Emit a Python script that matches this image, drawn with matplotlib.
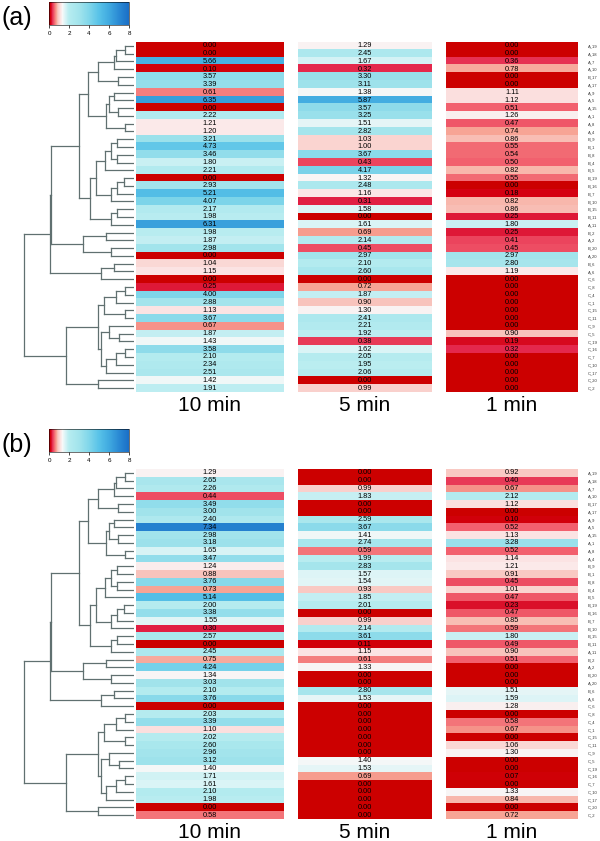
import matplotlib
matplotlib.use("Agg")
import matplotlib.pyplot as plt
import numpy as np
from matplotlib.colors import LinearSegmentedColormap, Normalize
from matplotlib.cm import ScalarMappable

plt.rcParams['font.family'] = ['Liberation Sans', 'DejaVu Sans']

# --- data ---
samples = ["A_19", "A_18", "A_7", "A_10", "B_17", "A_17", "A_9", "A_5", "A_15", "A_1", "A_8",
           "A_4", "B_9", "B_1", "B_8", "B_4", "B_5", "B_19", "B_16", "B_7", "B_10", "B_15",
           "B_11", "A_11", "B_2", "A_2", "B_20", "A_20", "B_6", "A_6",
           "C_6", "C_8", "C_4", "C_1", "C_15", "C_11", "C_9", "C_5", "C_19", "C_16", "C_7",
           "C_10", "C_17", "C_20", "C_2"]
times = ["10 min", "5 min", "1 min"]

a_10min = [0.00, 0.00, 5.66, 0.10, 3.57, 3.39, 0.61, 6.35, 0.00, 2.22, 1.21,
           1.20, 3.21, 4.73, 3.46, 1.80, 2.21, 0.00, 2.93, 5.21, 4.07, 2.17,
           1.98, 6.31, 1.98, 1.87, 2.98, 0.00, 1.04, 1.15,
           0.00, 0.25, 4.00, 2.88, 1.13, 3.67, 0.67, 1.87, 1.43, 3.58, 2.10,
           2.34, 2.51, 1.42, 1.91]
a_5min = [1.29, 2.45, 1.67, 0.32, 3.30, 3.11, 1.38, 5.87, 3.57, 3.25, 1.51,
          2.82, 1.03, 1.00, 3.67, 0.43, 4.17, 1.32, 2.48, 1.16, 0.31, 1.58,
          0.00, 1.61, 0.69, 2.14, 0.45, 2.97, 2.10, 2.60,
          0.00, 0.72, 1.87, 0.90, 1.30, 2.41, 2.21, 1.92, 0.38, 1.62, 2.05,
          1.95, 2.06, 0.00, 0.99]
a_1min = [0.00, 0.00, 0.36, 0.78, 0.00, 0.00, 1.11, 1.12, 0.51, 1.26, 0.47,
          0.74, 0.86, 0.55, 0.54, 0.50, 0.82, 0.55, 0.00, 0.18, 0.82, 0.86,
          0.25, 1.80, 0.25, 0.41, 0.45, 2.97, 2.80, 1.19,
          0.00, 0.00, 0.00, 0.00, 0.00, 0.00, 0.00, 0.90, 0.19, 0.32, 0.00,
          0.00, 0.00, 0.00, 0.00]

b_10min = [1.29, 2.65, 2.26, 0.44, 3.49, 3.00, 2.40, 7.34, 2.98, 3.18, 1.65,
           3.47, 1.24, 0.88, 3.76, 0.73, 5.14, 2.00, 3.38, 1.55, 0.30, 2.57,
           0.00, 2.45, 0.75, 4.24, 1.34, 3.03, 2.10, 3.76,
           0.00, 2.03, 3.39, 1.10, 2.02, 2.60, 2.96, 3.12, 1.40, 1.71, 1.61,
           2.10, 1.98, 0.00, 0.58]
b_5min = [0.00, 0.00, 0.99, 1.83, 0.00, 0.00, 2.59, 3.67, 1.41, 2.74, 0.59,
          1.99, 2.83, 1.57, 1.54, 0.93, 1.85, 2.01, 0.00, 0.99, 2.14, 3.61,
          0.11, 1.15, 0.61, 1.33, 0.00, 0.00, 2.80, 1.53,
          0.00, 0.00, 0.00, 0.00, 0.00, 0.00, 0.00, 1.40, 1.53, 0.69, 0.00,
          0.00, 0.00, 0.00, 0.00]
b_1min = [0.92, 0.40, 0.67, 2.12, 1.12, 0.00, 0.10, 0.52, 1.13, 3.28, 0.52,
          1.14, 1.21, 0.91, 0.45, 1.01, 0.47, 0.23, 0.47, 0.85, 0.59, 1.80,
          0.49, 0.90, 0.51, 0.00, 0.00, 0.00, 1.51, 1.59,
          1.28, 0.00, 0.58, 0.67, 0.00, 1.06, 1.30, 0.00, 0.00, 0.07, 0.00,
          1.33, 0.84, 0.00, 0.72]

# dendrogram (same for both panels): (left, right, merge height), leaves = row index
top_grp = (((((0, 1, 9), 2, 18), 3, 20), (4, 5, 16), 36),
           (((6, 7, 20), (8, 9, 16), 25), (10, 11, 9), 28), 46)
mid_grp = (((((12, 13, 17), (14, 15, 17), 23), 16, 29),
            ((((17, 18, 10), 19, 17)), 20, 23), 38),
           ((21, 22, 17), 23, 23), 44)
c_grp = (((((31, 32, 9), 33, 18), (34, 35, 9), 30),
          ((36, (37, 38, 15), 25), (((39, 40, 9), 41, 18), 42, 28), 33), 36),
         (43, 44, 36), 68)
tree = ((((top_grp, mid_grp, 55), ((24, 25, 28), (26, 27, 23), 51), 83),
         ((28, 29, 20), 30, 33), 84), c_grp, 110)

# --- colours ---
cmap = LinearSegmentedColormap.from_list("rw_blue", [
    (0.0, '#cc0000'), (0.15 / 8, '#d40010'), (0.3 / 8, '#e3244a'),
    (0.5 / 8, '#f2606e'), (0.7 / 8, '#f7a090'), (0.9 / 8, '#f9c8c2'),
    (1.15 / 8, '#fce6e6'), (1.35 / 8, '#f8f8f8'), (1.6 / 8, '#daf4f6'),
    (2.0 / 8, '#b6ecf0'), (3.0 / 8, '#a2e4ec'), (4.0 / 8, '#80d6ea'),
    (5.0 / 8, '#58c2e8'), (6.0 / 8, '#40aae0'), (7.0 / 8, '#2a8ad4'),
    (1.0, '#1a6ec6')])
norm = Normalize(0, 8)
LINE = '#607070'

W, H = 600, 841
fig = plt.figure(figsize=(6, 8.41), dpi=100)


def box(x0, y0, x1, y1):
    return [x0 / W, 1 - y1 / H, (x1 - x0) / W, (y1 - y0) / H]


def draw_tree(ax, node):
    if isinstance(node, int):
        return node + 0.5, 0
    left, right, h = node
    yl, hl = draw_tree(ax, left)
    yr, hr = draw_tree(ax, right)
    ax.plot([hl, h], [yl, yl], color=LINE, lw=0.9)
    ax.plot([hr, h], [yr, yr], color=LINE, lw=0.9)
    ax.plot([h, h], [yl, yr], color=LINE, lw=0.9)
    return (yl + yr) / 2, h


col_x = [(136, 284), (298, 432), (446, 578)]


def draw_panel(top, tag, columns):
    bottom = top + 350
    n = len(samples)

    axd = fig.add_axes(box(20, top, 134, bottom))
    draw_tree(axd, tree)
    axd.set_xlim(114, 0)
    axd.set_ylim(n, 0)
    axd.axis('off')

    for (x0, x1), vals, name in zip(col_x, columns, times):
        ax = fig.add_axes(box(x0, top, x1, bottom))
        ax.imshow(np.array(vals)[:, None], cmap=cmap, norm=norm, aspect='auto',
                  interpolation='nearest', extent=(0, 1, n, 0))
        for i, v in enumerate(vals):
            ax.text(0.5, i + 0.5, f"{v:.2f}", ha='center', va='center', fontsize=5.3)
        ax.set_xticks([])
        ax.set_yticks([])
        for s in ax.spines.values():
            s.set_visible(False)
        fig.text((x0 + x1) / 2 / W, 1 - (top + 363) / H, name,
                 ha='center', va='center', fontsize=15)

    ax.yaxis.tick_right()
    ax.set_yticks(np.arange(n) + 0.5)
    ax.set_yticklabels(samples, fontsize=3, color='#333333')
    ax.tick_params(axis='y', length=0, pad=7)

    cax = fig.add_axes(box(49, top - 40, 129, top - 17))
    cb = fig.colorbar(ScalarMappable(norm=norm, cmap=cmap), cax=cax,
                      orientation='horizontal', ticks=[0, 2, 4, 6, 8])
    cb.outline.set_linewidth(0.4)
    cb.ax.tick_params(labelsize=4.5, length=2, width=0.5, pad=2)

    fig.text(17 / W, 1 - (top - 24) / H, tag, ha='center', va='center', fontsize=18)


draw_panel(42, "(a)", [a_10min, a_5min, a_1min])
draw_panel(469, "(b)", [b_10min, b_5min, b_1min])

fig.savefig("out.png", dpi=100)
